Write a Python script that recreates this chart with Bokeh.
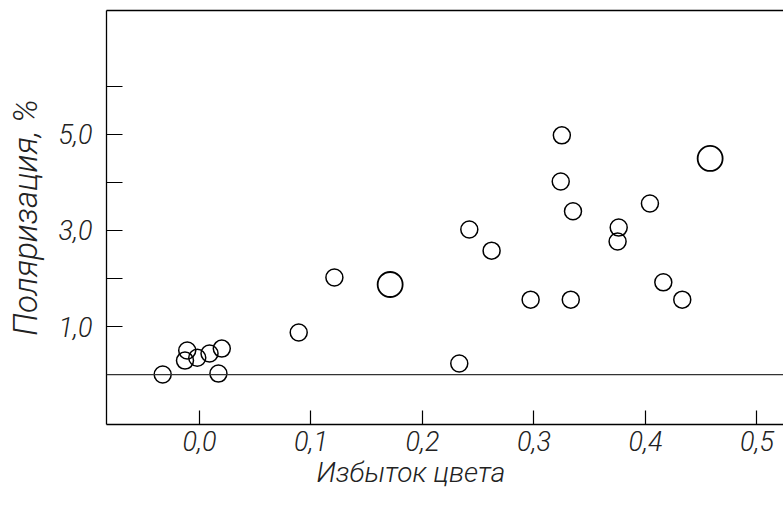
from bokeh.plotting import figure
from bokeh.models import FixedTicker, Span, LinearAxis, Title
from bokeh.embed import file_html
from bokeh.resources import INLINE

# --- data ---
# small circles: colour excess, polarization %
small_excess = [-0.033, -0.013, -0.011, -0.002, 0.009, 0.020, 0.017,
                0.089, 0.121, 0.233, 0.242, 0.262, 0.297, 0.325,
                0.324, 0.335, 0.333, 0.376, 0.375, 0.404, 0.416, 0.433]
small_pol = [0.00, 0.29, 0.50, 0.35, 0.44, 0.54, 0.02,
             0.875, 2.02, 0.23, 3.02, 2.58, 1.56, 4.98,
             4.02, 3.40, 1.56, 3.06, 2.77, 3.56, 1.92, 1.56]
# large circles
large_excess = [0.171, 0.458]
large_pol = [1.875, 4.50]

x_ticks = [0.0, 0.1, 0.2, 0.3, 0.4, 0.5]
x_tick_labels = ["0,0", "0,1", "0,2", "0,3", "0,4", "0,5"]
y_ticks = [1, 2, 3, 4, 5, 6]
y_tick_labels = ["1,0", "", "3,0", "", "5,0", ""]

x_title = "Избыток цвета"
y_title = "Поляризация, %"

FONT = "'Roboto Light', Roboto, sans-serif"

p = figure(width=783, height=510, frame_width=677, frame_height=414,
           x_range=(-0.0834, 0.5238), y_range=(-1.04, 7.58),
           output_backend="svg", toolbar_location=None,
           min_border_left=106, min_border_right=0,
           min_border_top=10, min_border_bottom=86,
           x_axis_location=None, y_axis_location=None)
p.grid.visible = False
p.outline_line_color = None
p.background_fill_color = "white"
p.border_fill_color = "white"

# bottom axis
xa = LinearAxis(ticker=FixedTicker(ticks=x_ticks),
                major_label_overrides={t: l for t, l in zip(x_ticks, x_tick_labels)})
xa.major_tick_in = 14
xa.major_tick_out = 0
xa.minor_tick_line_color = None
xa.axis_line_color = "black"
xa.axis_line_width = 1.3
xa.major_tick_line_width = 1.2
xa.major_label_standoff = 6
xa.major_label_text_font = FONT
xa.major_label_text_font_style = "italic"
xa.major_label_text_font_size = "27px"
xa.major_label_text_color = "#222"
p.add_layout(xa, "below")

# x title, placed like the original (left of centre)
p.add_layout(Title(text=x_title, align="left", offset=210, standoff=0,
                   text_font=FONT, text_font_style="italic",
                   text_font_size="28px", text_color="#222"), "below")

# left axis
ya = LinearAxis(ticker=FixedTicker(ticks=y_ticks),
                major_label_overrides={t: l for t, l in zip(y_ticks, y_tick_labels)},
                axis_label=y_title)
ya.major_tick_in = 16
ya.major_tick_out = 0
ya.minor_tick_line_color = None
ya.axis_line_color = "black"
ya.axis_line_width = 1.3
ya.major_tick_line_width = 1.2
ya.major_label_standoff = 14
ya.major_label_orientation = "horizontal"
ya.major_label_text_font = FONT
ya.major_label_text_font_style = "italic"
ya.major_label_text_font_size = "27px"
ya.major_label_text_color = "#222"
ya.axis_label_text_font = FONT
ya.axis_label_text_font_style = "italic"
ya.axis_label_text_font_size = "33px"
ya.axis_label_text_color = "#222"
ya.axis_label_standoff = 10
p.add_layout(ya, "left")

# top border
ta = LinearAxis(ticker=FixedTicker(ticks=[]))
ta.major_tick_line_color = None
ta.minor_tick_line_color = None
ta.major_label_text_font_size = "0px"
ta.axis_line_color = "black"
ta.axis_line_width = 1.3
p.add_layout(ta, "above")

# zero line
p.add_layout(Span(location=0, dimension="width", line_color="#333", line_width=1.3))

p.scatter(small_excess, small_pol, marker="circle", size=17,
          fill_color=None, line_color="black", line_width=1.5)
p.scatter(large_excess, large_pol, marker="circle", size=25,
          fill_color=None, line_color="black", line_width=1.8)

open("out.html", "w").write(file_html(p, INLINE))
